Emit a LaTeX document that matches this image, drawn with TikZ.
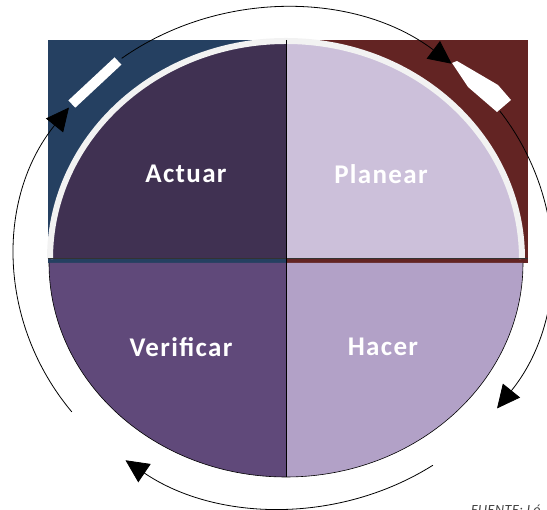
\documentclass[tikz,border=0pt]{standalone}
\usepackage{fontspec}
\setmainfont{Carlito}
\usetikzlibrary{arrows.meta}
\definecolor{boxblue}{RGB}{37,64,97}
\definecolor{boxred}{RGB}{99,36,35}
\definecolor{actfill}{RGB}{64,49,82}
\definecolor{planfill}{RGB}{204,192,218}
\definecolor{verfill}{RGB}{96,73,122}
\definecolor{hacfill}{RGB}{178,161,199}
\definecolor{rimgray}{RGB}{242,242,242}
\begin{document}
\begin{tikzpicture}[x=1pt,y=1pt,
  quadtext/.style={text=white,font=\fontsize{27}{30}\selectfont\bfseries\addfontfeature{LetterSpace=5}},
  cycarc/.style={black,line width=0.8pt,-{Triangle[length=23pt,width=22pt]}},
  cycmark/.style={white,line width=10pt}]
\tikzstyle{every node}+=[inner sep=0pt]
\useasboundingbox (0,0) rectangle (547,510);
% fondos
\fill [boxblue] (48,247) rectangle (286,470);
\fill [boxred] (286,247) rectangle (528,470);
% mitad superior
\fill [actfill] (286,251) -- (50,251) arc [start angle=180, end angle=90, x radius=236, y radius=218] -- cycle;
\fill [planfill] (286,251) -- (286,469) arc [start angle=90, end angle=0, x radius=236, y radius=218] -- cycle;
\draw [rimgray, line width=6pt] (50,251) arc [start angle=180, end angle=0, x radius=236, y radius=218];
\draw [black!80, line width=0.6pt] (48,251.5) -- (528,251.5);
% mitad inferior
\fill [verfill] (286,247) -- (49,247) arc [start angle=180, end angle=270, x radius=237, y radius=214] -- cycle;
\fill [hacfill] (286,247) -- (286,33) arc [start angle=270, end angle=360, x radius=237, y radius=214] -- cycle;
\draw [black, line width=0.6pt] (49,247) arc [start angle=180, end angle=360, x radius=237, y radius=214];
\draw [black, line width=0.6pt] (286,470) -- (286,33);
% textos
\node [quadtext] (actuar) at (186,336) {Actuar};
\node [quadtext] (planear) at (381,336) {Planear};
\node [quadtext] (verificar) at (181,163) {Verificar};
\node [quadtext] (hacer) at (383,163) {Hacer};
% ciclo
\coordinate (ctr) at (283,252);
\coordinate (lstart) at ([shift={(ctr)}]218:268 and 250);
\coordinate (tstart) at ([shift={(ctr)}]127:268 and 250);
\coordinate (rstart) at ([shift={(ctr)}]36:268 and 250);
\coordinate (bstart) at ([shift={(ctr)}]-56:268 and 250);
\coordinate (lmarka) at ([shift={(ctr)}]142:268 and 250);
\coordinate (lmarkb) at ([shift={(ctr)}]128:268 and 250);
\draw [cycarc] (lstart) arc [start angle=218, end angle=143, x radius=268, y radius=250];
\draw [cycarc] (tstart) arc [start angle=127, end angle=51, x radius=268, y radius=250];
\draw [cycarc] (rstart) arc [start angle=36, end angle=-37, x radius=268, y radius=250];
\draw [cycarc] (bstart) arc [start angle=-56, end angle=-126, x radius=268, y radius=250];
\draw [cycmark] (lmarka) -- (lmarkb);
\fill [white] (452,447) -- (468,423) -- (497,398) -- (511,410) -- (498,425) -- (457,449) -- cycle;
% fuente
\node [anchor=base west, text=black!75, font=\fontsize{14}{16}\selectfont\itshape\addfontfeature{LetterSpace=4}] (fuente) at (471,-5) {FUENTE: Ló};
\end{tikzpicture}
\end{document}
